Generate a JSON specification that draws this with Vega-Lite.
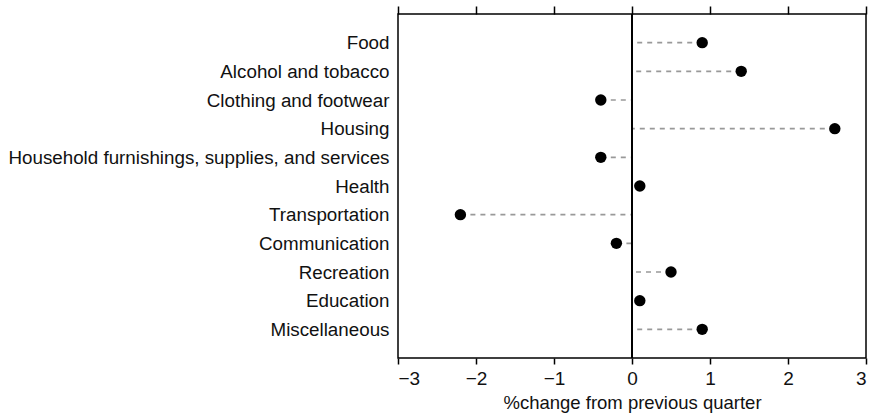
{
  "$schema": "https://vega.github.io/schema/vega-lite/v6.json",
  "autosize": {"type": "none"},
  "padding": {"left": 398, "top": 14, "right": 13, "bottom": 60},
  "width": 468,
  "height": 344,
  "config": {
    "view": {"stroke": "#000", "strokeWidth": 1.5},
    "font": "Liberation Sans",
    "axis": {"labelFont": "Liberation Sans", "titleFont": "Liberation Sans", "labelColor": "#111", "titleColor": "#111", "domainColor": "#000", "tickColor": "#000", "grid": false}
  },
  "data": {
    "values": [
      {"category": "Food", "value": 0.9},
      {"category": "Alcohol and tobacco", "value": 1.4},
      {"category": "Clothing and footwear", "value": -0.4},
      {"category": "Housing", "value": 2.6},
      {"category": "Household furnishings, supplies, and services", "value": -0.4},
      {"category": "Health", "value": 0.1},
      {"category": "Transportation", "value": -2.2},
      {"category": "Communication", "value": -0.2},
      {"category": "Recreation", "value": 0.5},
      {"category": "Education", "value": 0.1},
      {"category": "Miscellaneous", "value": 0.9}
    ]
  },
  "resolve": {"axis": {"x": "independent"}},
  "layer": [
    {
      "mark": {"type": "rule", "color": "#999", "strokeDash": [5, 5], "strokeWidth": 1.7},
      "encoding": {
        "y": {
          "field": "category", "type": "nominal", "sort": null,
          "scale": {"type": "point", "padding": 1},
          "axis": {"title": null, "ticks": false, "domain": false, "labelPadding": 9, "labelFontSize": 18.8, "labelLimit": 600}
        },
        "x": {"field": "value", "type": "quantitative", "scale": {"domain": [-3, 3], "nice": false},
          "axis": {"values": [-3, -2, -1, 0, 1, 2, 3], "title": "%change from previous quarter", "labelFontSize": 19, "titleFontSize": 18.5, "titleFontWeight": "normal", "tickSize": 6, "labelPadding": 5, "titlePadding": 5, "domain": false, "tickWidth": 1.5}},
        "x2": {"datum": 0}
      }
    },
    {
      "mark": {"type": "rule", "color": "#000", "strokeWidth": 1.5},
      "encoding": {
        "x": {"datum": 0, "type": "quantitative",
          "axis": {"orient": "top", "values": [-3, -2, -1, 0, 1, 2, 3], "labels": false, "title": null, "tickSize": 8, "domain": false, "tickWidth": 1.5}}
      }
    },
    {
      "mark": {"type": "circle", "color": "#000", "opacity": 1, "size": 130},
      "encoding": {
        "y": {"field": "category", "type": "nominal", "sort": null},
        "x": {"field": "value", "type": "quantitative", "axis": null}
      }
    }
  ]
}
